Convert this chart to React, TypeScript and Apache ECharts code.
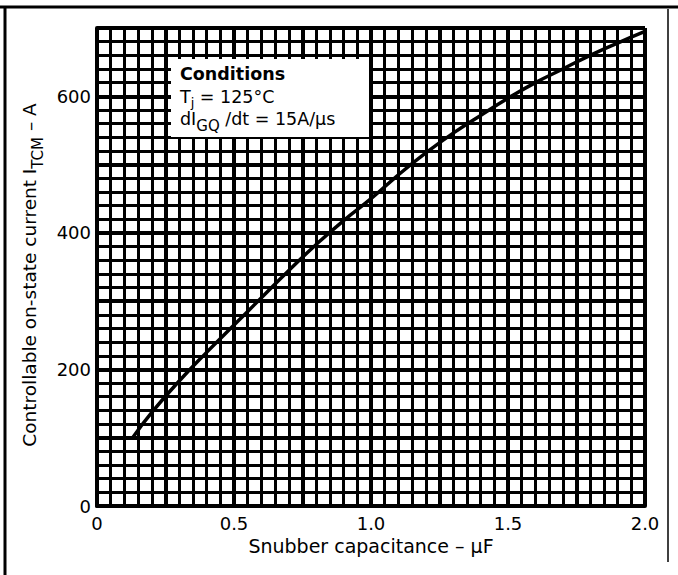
import React, { useEffect, useRef } from "react";
import * as echarts from "echarts";

const capacitance = [0.13, 0.2, 0.3, 0.4, 0.5, 0.6, 0.7, 0.8, 0.9, 1.0, 1.1, 1.2, 1.3, 1.4, 1.5, 1.6, 1.7, 1.8, 1.9, 2.0];
const current = [100, 137, 183, 225, 265, 305, 345, 383, 418, 450, 485, 517, 546, 572, 597, 620, 640, 660, 678, 695];
const xTickLabels = ["0", "0.5", "1.0", "1.5", "2.0"];
const yTickLabels = ["0", "200", "400", "600"];
const conditionLines = ["Conditions", "T|j| = 125°C", "dI|GQ| /dt = 15A/μs"];

const FONT = "DejaVu Sans, Liberation Sans, Arial, sans-serif";

export default function App() {
  const ref = useRef<HTMLDivElement>(null);
  useEffect(() => {
    if (!ref.current) return;
    const chart = echarts.init(ref.current, null, { renderer: "svg" });
    const data = capacitance.map((x, i) => [x, current[i]]);
    const sub = (s: string) => {
      const p = s.split("|");
      return `{a|${p[0]}}{s|${p[1]}}{a|${p[2]}}`;
    };
    chart.setOption({
      animation: false,
      backgroundColor: "#fff",
      textStyle: { fontFamily: FONT },
      grid: { left: 97, top: 28, right: 33, bottom: 69 },
      xAxis: {
        type: "value",
        min: 0,
        max: 2,
        interval: 0.25,
        name: "Snubber capacitance – μF",
        nameLocation: "middle",
        nameGap: 27,
        nameTextStyle: { fontSize: 19, color: "#000", fontFamily: FONT },
        axisLine: { show: true, lineStyle: { color: "#000", width: 4 } },
        axisTick: { show: false },
        axisLabel: {
          fontSize: 18,
          color: "#000",
          margin: 8,
          fontFamily: FONT,
          formatter: (v: number) => {
            const k = Math.round(v / 0.5);
            return Math.abs(v - k * 0.5) < 1e-6 ? xTickLabels[k] ?? "" : "";
          },
        },
        splitLine: { show: true, lineStyle: { color: "#000", width: 4 } },
        minorTick: { show: false, splitNumber: 5 },
        minorSplitLine: { show: true, lineStyle: { color: "#000", width: 3 } },
      },
      yAxis: {
        type: "value",
        min: 0,
        max: 700,
        interval: 100,
        name: "{a|Controllable on-state current I}{s|TCM}{a| – A}",
        nameLocation: "middle",
        nameRotate: 90,
        nameGap: 46,
        nameTextStyle: {
          color: "#000",
          fontFamily: FONT,
          padding: [0, 16, 0, 0],
          rich: {
            a: { fontSize: 18.5, lineHeight: 26, verticalAlign: "top", color: "#000", fontFamily: FONT },
            s: { fontSize: 15, lineHeight: 26, verticalAlign: "bottom", color: "#000", fontFamily: FONT },
          },
        },
        axisLine: { show: true, lineStyle: { color: "#000", width: 4 } },
        axisTick: { show: false },
        axisLabel: {
          fontSize: 18,
          color: "#000",
          margin: 6,
          fontFamily: FONT,
          formatter: (v: number) => (v % 200 === 0 ? yTickLabels[v / 200] ?? "" : ""),
        },
        splitLine: { show: true, lineStyle: { color: "#000", width: 4 } },
        minorTick: { show: false, splitNumber: 5 },
        minorSplitLine: { show: true, lineStyle: { color: "#000", width: 3 } },
      },
      series: [
        {
          type: "line",
          data,
          smooth: true,
          showSymbol: false,
          lineStyle: { color: "#000", width: 3.5 },
          z: 3,
        },
      ],
      graphic: [
        { type: "line", shape: { x1: 0, y1: 7, x2: 678, y2: 7 }, style: { stroke: "#000", lineWidth: 3 }, z: 10 },
        { type: "line", shape: { x1: 5, y1: 7, x2: 5, y2: 575 }, style: { stroke: "#000", lineWidth: 3 }, z: 10 },
        { type: "line", shape: { x1: 668, y1: 9, x2: 668, y2: 562 }, style: { stroke: "#000", lineWidth: 1.5 }, z: 10 },
        { type: "rect", shape: { x: 171, y: 59, width: 198, height: 78 }, style: { fill: "#fff" }, z: 10 },
        {
          type: "text",
          x: 180,
          y: 65,
          z: 11,
          style: { text: conditionLines[0], fontFamily: FONT, fontSize: 17.5, fontWeight: "bold", fill: "#000" },
        },
        {
          type: "text",
          x: 180,
          y: 88,
          z: 11,
          style: {
            text: sub(conditionLines[1]),
            fontFamily: FONT,
            rich: {
              a: { fontSize: 17.5, lineHeight: 21, verticalAlign: "top", fill: "#000", fontFamily: FONT },
              s: { fontSize: 13, lineHeight: 21, verticalAlign: "bottom", fill: "#000", fontFamily: FONT },
            },
          },
        },
        {
          type: "text",
          x: 180,
          y: 110,
          z: 11,
          style: {
            text: sub(conditionLines[2]),
            fontFamily: FONT,
            rich: {
              a: { fontSize: 17.5, lineHeight: 23, verticalAlign: "top", fill: "#000", fontFamily: FONT },
              s: { fontSize: 15, lineHeight: 23, verticalAlign: "bottom", fill: "#000", fontFamily: FONT },
            },
          },
        },
      ],
    });
    return () => chart.dispose();
  }, []);
  return <div ref={ref} style={{ position: "fixed", left: 0, top: 0, width: 678, height: 575 }} />;
}
